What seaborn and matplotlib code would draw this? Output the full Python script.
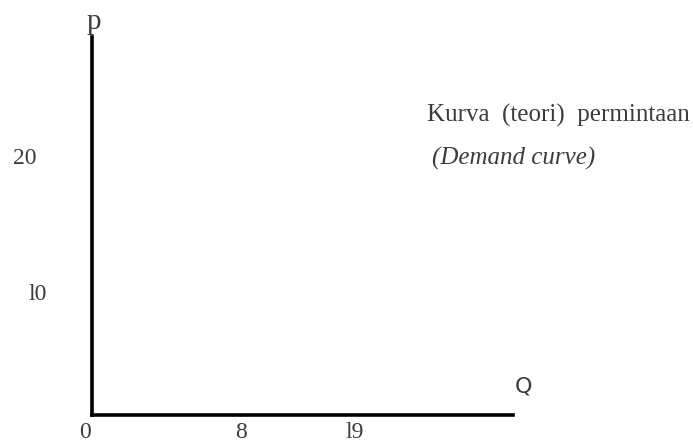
import matplotlib
matplotlib.use('Agg')
import matplotlib.pyplot as plt
import seaborn as sns

# axis names and tick labels as printed in the figure
AXIS_NAMES = {'y': 'p', 'x': 'Q'}
X_TICK_LABELS = ['0', '8', 'l9']
Y_TICK_LABELS = ['20', 'l0']
CURVE_TITLE = 'Kurva  (teori)  permintaan'
CURVE_SUBTITLE = '(Demand curve)'

TEXT_COLOR = '#3c3c3c'
SERIF = ['Liberation Serif', 'DejaVu Serif']


def main():
    sns.set_style('white')
    fig = plt.figure(figsize=(6.93, 4.44), dpi=100)
    # axes box in figure fractions (axis corner at px 92, 415)
    ax = fig.add_axes([92 / 693, 29 / 444, 421 / 693, 378 / 444])
    ax.set_xlim(0, 1)
    ax.set_ylim(0, 1)
    sns.despine(ax=ax)
    for side in ('left', 'bottom'):
        ax.spines[side].set_linewidth(2.6)
        ax.spines[side].set_color('black')
    ax.set_xticks([])
    ax.set_yticks([])

    # x tick labels (axes fraction positions)
    x_pos = [-0.017, 0.354, 0.625]
    for lab, x in zip(X_TICK_LABELS, x_pos):
        ax.text(x, -0.045, lab, transform=ax.transAxes, ha='center', va='center',
                fontsize=17, family=SERIF, color=TEXT_COLOR)

    # y tick labels (figure pixel positions, not right aligned in the source)
    y_pos = [(25, 158), (38, 295)]
    for lab, (px, py) in zip(Y_TICK_LABELS, y_pos):
        fig.text(px / 693, 1 - py / 444, lab, ha='center', va='center',
                 fontsize=17, family=SERIF, color=TEXT_COLOR)

    fig.text(94 / 693, 1 - 22 / 444, AXIS_NAMES['y'], ha='center', va='center',
             fontsize=21, family=SERIF, color=TEXT_COLOR)
    fig.text(523 / 693, 1 - 386 / 444, AXIS_NAMES['x'], ha='center', va='center',
             fontsize=16, family=['DejaVu Sans'], color=TEXT_COLOR)

    fig.text(427 / 693, 1 - 115 / 444, CURVE_TITLE, ha='left', va='center',
             fontsize=18, family=SERIF, color=TEXT_COLOR)
    fig.text(432 / 693, 1 - 158 / 444, CURVE_SUBTITLE, ha='left', va='center',
             fontsize=18, family=SERIF, style='italic', color=TEXT_COLOR)

    fig.savefig('out.png', dpi=100)


if __name__ == '__main__':
    main()
